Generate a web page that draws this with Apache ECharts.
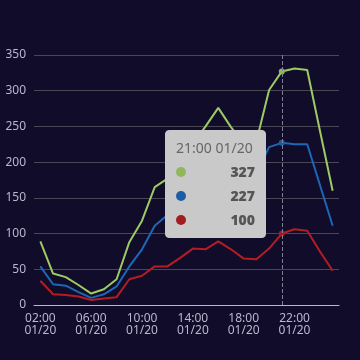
<!DOCTYPE html>
<html>
<head>
<meta charset="utf-8">
<script src="https://cdn.jsdelivr.net/npm/echarts@6/dist/echarts.min.js"></script>
<style>
html,body{margin:0;padding:0;background:#100c2a;}
#c{width:360px;height:360px;}
</style>
</head>
<body>
<div id="c"></div>
<script>
var categories = ["02:00 01/20","03:00 01/20","04:00 01/20","05:00 01/20","06:00 01/20","07:00 01/20","08:00 01/20","09:00 01/20","10:00 01/20","11:00 01/20","12:00 01/20","13:00 01/20","14:00 01/20","15:00 01/20","16:00 01/20","17:00 01/20","18:00 01/20","19:00 01/20","20:00 01/20","21:00 01/20","22:00 01/20","23:00 01/20","00:00 01/21","01:00 01/21"];
var greenValues = [89,44,39,28,16,22,36,88,118,165,177,205,225,250,276,249,226,229,301,327,331,329,244,160];
var blueValues = [54,29,27,18,10,15,26,54,78,111,126,145,160,176,195,180,170,185,221,227,225,225,168,111];
var redValues = [34,15,14,12,7,9,11,36,41,54,54,66,79,78,89,78,65,64,79,100,106,104,75,48];
var yTicks = {min:0, max:350, interval:50};
var hoverIndex = 19;

var chart = echarts.init(document.getElementById('c'), null, {renderer:'canvas'});
var font = 'Noto Sans';
function mk(data, color){
  return {
    type:'line', name:'', data:data, showSymbol:false, symbol:'circle', symbolSize:6,
    lineStyle:{color:color, width:2}, itemStyle:{color:color},
    emphasis:{disabled:false, scale:false}
  };
}
chart.setOption({
  backgroundColor:'#100c2a',
  animation:false,
  textStyle:{fontFamily:font},
  grid:{left:34, right:21, top:55, bottom:55, outerBoundsMode:'none', containLabel:false},
  tooltip:{
    trigger:'axis',
    alwaysShowContent:true,
    backgroundColor:'#c9c9c9',
    borderColor:'#c9c9c9',
    borderWidth:1,
    padding:10,
    extraCssText:'box-shadow:none;border-radius:4px;width:79px;',
    textStyle:{fontFamily:font, fontSize:14},
    position:function(){ return [165,130]; },
    axisPointer:{type:'line', lineStyle:{type:'dashed', color:'#817f91', width:1}},
    formatter:function(params){
      var h = '<div style="line-height:1;color:#666;font-size:14px;font-family:Noto Sans;white-space:nowrap">'+params[0].name+'</div>';
      params.forEach(function(p){
        h += '<div style="margin-top:10px;line-height:1;font-size:14px;font-family:Noto Sans">'+
          '<span style="display:inline-block;margin-right:4px;border-radius:10px;width:10px;height:10px;background-color:'+p.color+';"></span>'+
          '<span style="float:right;margin-left:20px;color:#555;font-weight:900">'+p.value+'</span><div style="clear:both"></div></div>';
      });
      return h;
    }
  },
  xAxis:{
    type:'category', data:categories, boundaryGap:true,
    axisLine:{lineStyle:{color:'#b9b8ce'}},
    axisTick:{interval:3, length:5, lineStyle:{color:'#b9b8ce'}},
    axisLabel:{interval:3, color:'#b9b8ce', fontSize:12, fontFamily:font, lineHeight:12,
      formatter:function(v){return v.replace(' ','\n');}},
    splitLine:{show:false}
  },
  yAxis:{
    type:'value', min:yTicks.min, max:yTicks.max, interval:yTicks.interval,
    axisLine:{show:false}, axisTick:{show:false},
    axisLabel:{color:'#b9b8ce', fontSize:12, fontFamily:font},
    splitLine:{lineStyle:{color:'#484753'}}
  },
  series:[mk(greenValues,'#8fb85a'), mk(blueValues,'#1c5ea6'), mk(redValues,'#a41b1f')]
});
setTimeout(function(){
  chart.dispatchAction({type:'showTip', seriesIndex:0, dataIndex:hoverIndex});
}, 50);
</script>
</body>
</html>
